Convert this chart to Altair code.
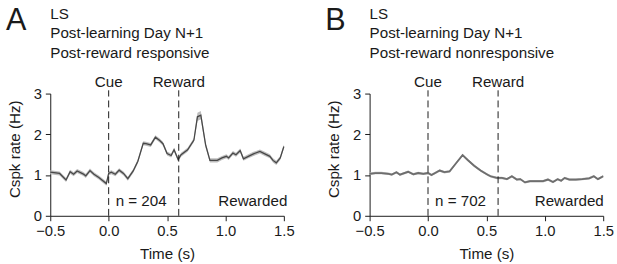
import altair as alt
import pandas as pd

# ---------------- data ----------------
a_time = [-0.5, -0.42, -0.365, -0.33, -0.30, -0.27, -0.22, -0.196, -0.16, -0.126,
          -0.084, -0.02, 0.0, 0.023, 0.057, 0.09, 0.127, 0.164, 0.21, 0.25,
          0.296, 0.32, 0.36, 0.40, 0.437, 0.465, 0.50, 0.535, 0.56, 0.595,
          0.62, 0.676, 0.73, 0.76, 0.789, 0.83, 0.867, 0.93, 0.97, 1.008,
          1.027, 1.064, 1.09, 1.126, 1.154, 1.196, 1.24, 1.295, 1.337, 1.38,
          1.407, 1.435, 1.469, 1.5]
a_rate = [1.07, 1.04, 0.88, 1.08, 1.02, 1.10, 1.03, 0.98, 1.11, 1.02,
          0.94, 0.79, 1.04, 1.07, 1.02, 1.12, 1.04, 0.91, 1.10, 1.34,
          1.78, 1.77, 1.74, 1.93, 1.85, 1.77, 1.53, 1.48, 1.62, 1.38,
          1.50, 1.62, 1.86, 2.43, 2.47, 1.74, 1.36, 1.36, 1.42, 1.46,
          1.42, 1.54, 1.50, 1.60, 1.40, 1.46, 1.52, 1.58, 1.52, 1.46,
          1.36, 1.30, 1.42, 1.70]
a_sem = [0.05] * 33 + [0.10, 0.10, 0.07] + [0.05] * 18

b_time = [-0.5, -0.45, -0.40, -0.337, -0.31, -0.27, -0.24, -0.21, -0.17, -0.126,
          -0.084, -0.04, 0.0, 0.03, 0.10, 0.14, 0.185, 0.24, 0.296, 0.34,
          0.395, 0.45, 0.51, 0.535, 0.59, 0.633, 0.676, 0.718, 0.76, 0.79,
          0.83, 0.873, 0.985, 1.027, 1.07, 1.11, 1.14, 1.17, 1.21, 1.266,
          1.32, 1.38, 1.42, 1.455, 1.5]
b_rate = [1.03, 1.05, 1.05, 1.03, 1.01, 1.07, 1.01, 1.04, 1.08, 1.02,
          1.05, 1.03, 1.05, 1.00, 1.11, 1.07, 1.09, 1.29, 1.49, 1.37,
          1.23, 1.11, 1.01, 0.97, 0.93, 0.93, 0.90, 0.97, 0.89, 0.90,
          0.82, 0.85, 0.85, 0.89, 0.83, 0.90, 0.86, 0.93, 0.89, 0.89,
          0.90, 0.92, 0.97, 0.90, 0.97]
b_sem = [0.03] * 45

x_ticks = [-0.5, 0.0, 0.5, 1.0, 1.5]
y_ticks = [0, 1, 2, 3]
event_times = [0.0, 0.6]
event_labels = ["Cue", "Reward"]

FONT = "Liberation Sans"
INK = "#1a1a1a"
W, H = 237, 124
FS = 15.4

XS = alt.Scale(domain=[-0.5, 1.5], nice=False, zero=False)
YS = alt.Scale(domain=[0, 3], nice=False, zero=False)
XAX = alt.Axis(values=x_ticks, format=".1f", title="Time (s)", grid=False, labelFlush=False,
               tickSize=5, labelPadding=3, titlePadding=8)
YAX = alt.Axis(values=y_ticks, format="d", title="Cspk rate (Hz)", grid=False, labelFlush=False,
               tickSize=5, labelPadding=4, titlePadding=11, titleY=56)


def X(f):
    return alt.X(f, type="quantitative", scale=XS, axis=XAX)


def Y(f):
    return alt.Y(f, type="quantitative", scale=YS, axis=YAX)


def txt(s, size=FS, align="left"):
    return alt.Chart(pd.DataFrame({"s": [s]})).mark_text(
        font=FONT, fontSize=size, color=INK, align=align, baseline="alphabetic", text=s)


def panel(letter, lines, n_text, time, rate, sem, line_color, line_w, rew_x):
    df = pd.DataFrame({"t": time, "r": rate,
                       "lo": [r - s for r, s in zip(rate, sem)],
                       "hi": [r + s for r, s in zip(rate, sem)]})
    base = alt.Chart(df)
    band = base.mark_area(color="#bdbdbd", opacity=1).encode(x=X("t"), y=Y("lo"), y2="hi")
    line = base.mark_line(color=line_color, strokeWidth=line_w).encode(x=X("t"), y=Y("r"))

    ev = pd.DataFrame({"t": event_times, "lab": event_labels, "y0": [0, 0], "y1": [3.08, 3.08]})
    rules = alt.Chart(ev).mark_rule(color=INK, strokeWidth=1, strokeDash=[7, 4]).encode(
        x=X("t"), y=Y("y0"), y2="y1")
    evtext = alt.Chart(ev).mark_text(font=FONT, fontSize=FS, color=INK, align="center",
                                     baseline="alphabetic").encode(
        x=X("t"), y=alt.value(-7), text="lab:N")

    ann = pd.DataFrame({"t": [0.06, rew_x], "v": [0.23, 0.23], "s": [n_text, "Rewarded"]})
    ntext = alt.Chart(ann.iloc[[0]]).mark_text(font=FONT, fontSize=FS, color=INK, align="left",
                                               baseline="alphabetic").encode(
        x=X("t"), y=Y("v"), text="s:N")
    rtext = alt.Chart(ann.iloc[[1]]).mark_text(font=FONT, fontSize=FS, color=INK, align="right",
                                               baseline="alphabetic").encode(
        x=X("t"), y=Y("v"), text="s:N")

    h0 = txt(lines[0]).encode(x=alt.value(0), y=alt.value(-76))
    h1 = txt(lines[1]).encode(x=alt.value(0), y=alt.value(-56))
    h2 = txt(lines[2]).encode(x=alt.value(0), y=alt.value(-36))
    lt = txt(letter, size=31).encode(x=alt.value(-45), y=alt.value(-65))

    return alt.layer(band, line, rules, evtext, ntext, rtext, h0, h1, h2, lt).properties(
        width=W, height=H)


lines_a = ["LS", "Post-learning Day N+1", "Post-reward responsive"]
lines_b = ["LS", "Post-learning Day N+1", "Post-reward nonresponsive"]

pa = panel("A", lines_a, "n = 204", a_time, a_rate, a_sem, "#484848", 1.3, 1.53)
pb = panel("B", lines_b, "n = 702", b_time, b_rate, b_sem, "#6e6e6e", 1.8, 1.505)

chart = alt.hconcat(pa, pb, spacing=31).properties(
    padding={"left": 6, "top": 3, "right": 3, "bottom": 3}
).configure_view(stroke=None).configure_axis(
    domainColor=INK, tickColor=INK, labelColor=INK, titleColor=INK,
    labelFont=FONT, titleFont=FONT, labelFontSize=15, titleFontSize=FS,
    titleFontWeight="normal", domainWidth=1, tickWidth=1
)

chart.save("out.html", embed_options={"renderer": "svg", "actions": False})
